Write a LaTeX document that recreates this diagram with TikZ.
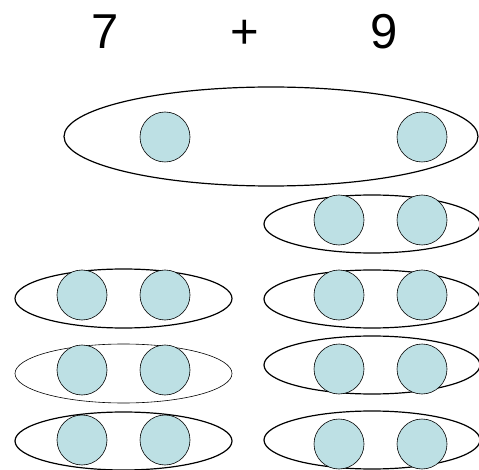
\documentclass[tikz,border=0pt]{standalone}
\usepackage{fontspec}
\setmainfont{Liberation Sans}
\usetikzlibrary{shapes.geometric}
\definecolor{bead}{RGB}{189,224,228}
\tikzset{
  bead/.style={circle, draw=black, line width=0.6pt, fill=bead, minimum size=50pt, inner sep=0pt},
  group/.style={ellipse, draw=black, line width=1.2pt, inner sep=0pt},
  thingroup/.style={ellipse, draw=black, line width=0.6pt, inner sep=0pt},
  numlabel/.style={anchor=base, font=\fontsize{49}{52}\selectfont, inner sep=0pt}
}
\begin{document}
\begin{tikzpicture}[x=1pt,y=-1pt]
\useasboundingbox (0,0) rectangle (479,470);
% labels
\node[numlabel] (seven) at (105,48.5) {7};
\node[numlabel] (plus) at (244.5,48.5) {+};
\node[numlabel] (nine) at (384.5,48.5) {9};
% big group
\node[group, minimum width=414pt, minimum height=99pt] (big) at (271,136.5) {};
% right column groups
\node[group, minimum width=216pt, minimum height=58pt] (r1) at (372,224) {};
\node[group, minimum width=216pt, minimum height=58pt] (r2) at (372,299) {};
\node[group, minimum width=216pt, minimum height=58pt] (r3) at (372,365) {};
\node[group, minimum width=216pt, minimum height=58pt] (r4) at (372,440) {};
% left column groups
\node[group, minimum width=217pt, minimum height=59pt] (l1) at (123.5,298.5) {};
\node[thingroup, minimum width=217pt, minimum height=59pt] (l2) at (123.5,373.5) {};
\node[group, minimum width=217pt, minimum height=58pt] (l3) at (123.5,441) {};
% beads
\node[bead] (b1) at (165,137) {};
\node[bead] (b2) at (422,137) {};
\node[bead] (r1a) at (339,220) {};
\node[bead] (r1b) at (422,220) {};
\node[bead] (r2a) at (339,295) {};
\node[bead] (r2b) at (422,295) {};
\node[bead] (r3a) at (339,369) {};
\node[bead] (r3b) at (422,369) {};
\node[bead] (r4a) at (339,444) {};
\node[bead] (r4b) at (422,444) {};
\node[bead] (l1a) at (82,295) {};
\node[bead] (l1b) at (165,295) {};
\node[bead] (l2a) at (82,370) {};
\node[bead] (l2b) at (165,370) {};
\node[bead] (l3a) at (82,440) {};
\node[bead] (l3b) at (165,440) {};
\end{tikzpicture}
\end{document}
